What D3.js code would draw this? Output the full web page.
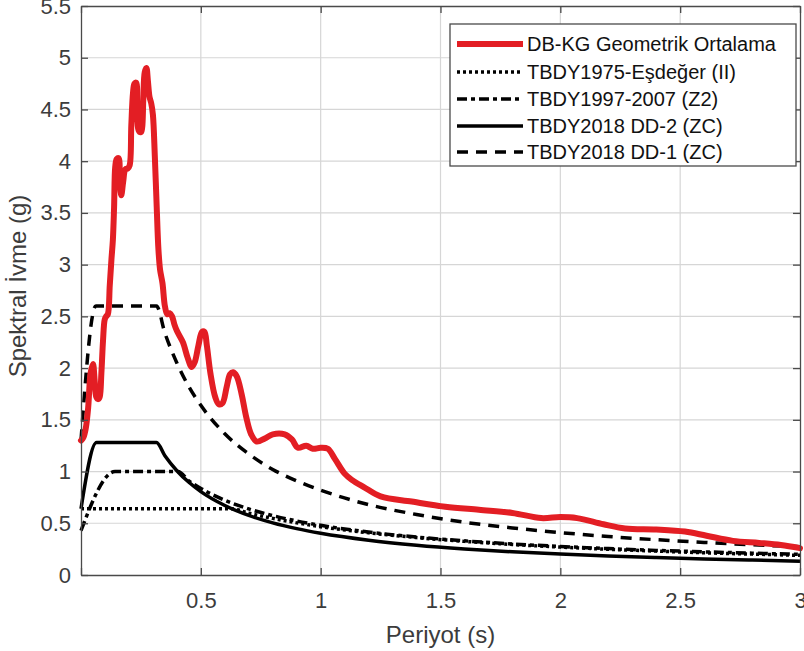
<!DOCTYPE html>
<html>
<head>
<meta charset="utf-8">
<script src="https://cdn.jsdelivr.net/npm/d3@7"></script>
<style>
  html, body { margin: 0; padding: 0; background: #fff; }
  svg { display: block; font-family: "Liberation Sans", Arial, sans-serif; }
</style>
</head>
<body>
<svg id="chart" width="804" height="651"></svg>
<script>
// ---------------- DATA ----------------
const xTicks = [0, 0.5, 1, 1.5, 2, 2.5, 3];
const xTickLabels = ["", "0.5", "1", "1.5", "2", "2.5", "3"];
const yTicks = [0, 0.5, 1, 1.5, 2, 2.5, 3, 3.5, 4, 4.5, 5, 5.5];
const yTickLabels = ["0", "0.5", "1", "1.5", "2", "2.5", "3", "3.5", "4", "4.5", "5", "5.5"];

const seriesNames = [
  "DB-KG Geometrik Ortalama",
  "TBDY1975-Eşdeğer (II)",
  "TBDY1997-2007 (Z2)",
  "TBDY2018 DD-2 (ZC)",
  "TBDY2018 DD-1 (ZC)"
];

// DB-KG geometric mean spectrum (periods, s / spectral acc., g)
const periodsDBKG = [0.0, 0.01, 0.02, 0.03, 0.04, 0.05, 0.057, 0.064, 0.072, 0.078, 0.085, 0.092, 0.099, 0.105, 0.112, 0.12, 0.127, 0.133, 0.138, 0.143, 0.149, 0.157, 0.162, 0.168, 0.176, 0.185, 0.195, 0.203, 0.21, 0.217, 0.223, 0.23, 0.235, 0.24, 0.25, 0.255, 0.26, 0.266, 0.273, 0.279, 0.286, 0.293, 0.3, 0.308, 0.316, 0.323, 0.33, 0.34, 0.35, 0.36, 0.37, 0.38, 0.39, 0.40, 0.425, 0.445, 0.462, 0.475, 0.49, 0.505, 0.515, 0.525, 0.54, 0.56, 0.575, 0.59, 0.608, 0.622, 0.635, 0.65, 0.67, 0.69, 0.71, 0.733, 0.767, 0.80, 0.85, 0.88, 0.905, 0.94, 0.967, 1.0, 1.03, 1.06, 1.1, 1.13, 1.18, 1.25, 1.38, 1.52, 1.66, 1.8, 1.92, 2.0, 2.07, 2.18, 2.27, 2.4, 2.52, 2.61, 2.72, 2.83, 2.92, 3.0];
const saDBKG = [1.30, 1.33, 1.42, 1.62, 1.95, 2.04, 1.88, 1.72, 1.70, 1.72, 1.95, 2.27, 2.47, 2.50, 2.52, 2.80, 3.05, 3.24, 3.55, 3.95, 4.02, 4.03, 3.80, 3.67, 3.80, 3.92, 3.93, 3.96, 4.35, 4.66, 4.75, 4.76, 4.55, 4.30, 4.28, 4.32, 4.60, 4.86, 4.90, 4.78, 4.62, 4.56, 4.45, 4.05, 3.55, 3.15, 2.95, 2.82, 2.60, 2.52, 2.53, 2.50, 2.42, 2.36, 2.25, 2.10, 2.01, 2.06, 2.22, 2.35, 2.35, 2.22, 1.95, 1.72, 1.65, 1.66, 1.82, 1.94, 1.96, 1.92, 1.75, 1.52, 1.36, 1.29, 1.32, 1.36, 1.36, 1.31, 1.23, 1.25, 1.22, 1.23, 1.22, 1.12, 0.98, 0.92, 0.85, 0.76, 0.71, 0.66, 0.63, 0.60, 0.55, 0.56, 0.55, 0.49, 0.45, 0.44, 0.42, 0.38, 0.33, 0.31, 0.29, 0.26];

// TBDY1975 equivalent (soil class II)
const periods1975 = [0.0, 0.63, 0.7, 0.8, 0.9, 1.0, 1.2, 1.4, 1.6, 1.8, 2.0, 2.2, 2.4, 2.6, 2.8, 3.0];
const sa1975 = [0.64, 0.64, 0.598, 0.547, 0.504, 0.467, 0.408, 0.362, 0.325, 0.295, 0.270, 0.249, 0.231, 0.215, 0.202, 0.190];

// TBDY1997-2007 (Z2)
const periods1997 = [0.0, 0.142, 0.405, 0.45, 0.5, 0.6, 0.7, 0.8, 0.9, 1.0, 1.2, 1.4, 1.6, 1.8, 2.0, 2.2, 2.4, 2.6, 2.8, 3.0];
const sa1997 = [0.43, 1.0, 1.0, 0.910, 0.837, 0.723, 0.639, 0.574, 0.522, 0.480, 0.415, 0.367, 0.330, 0.300, 0.276, 0.255, 0.238, 0.224, 0.211, 0.200];

// TBDY2018 DD-2 (ZC)
const periodsDD2 = [0.0, 0.065, 0.315, 0.35, 0.4, 0.45, 0.5, 0.6, 0.7, 0.8, 0.9, 1.0, 1.2, 1.4, 1.6, 1.8, 2.0, 2.2, 2.4, 2.6, 2.8, 3.0];
const saDD2 = [0.64, 1.28, 1.28, 1.152, 1.008, 0.896, 0.806, 0.672, 0.576, 0.504, 0.448, 0.403, 0.336, 0.288, 0.252, 0.224, 0.202, 0.183, 0.168, 0.155, 0.144, 0.134];

// TBDY2018 DD-1 (ZC)
const periodsDD1 = [0.0, 0.062, 0.315, 0.35, 0.4, 0.45, 0.5, 0.6, 0.7, 0.8, 0.9, 1.0, 1.2, 1.4, 1.6, 1.8, 2.0, 2.2, 2.4, 2.6, 2.8, 3.0];
const saDD1 = [1.30, 2.60, 2.60, 2.34, 2.05, 1.82, 1.64, 1.365, 1.17, 1.02, 0.91, 0.82, 0.68, 0.585, 0.51, 0.455, 0.41, 0.372, 0.341, 0.315, 0.292, 0.273];

// ---------------- LAYOUT ----------------
const svg = d3.select("#chart");
const W = 804, H = 651;
const m = { left: 81, right: 4, top: 6, bottom: 76 };
const pw = W - m.left - m.right, ph = H - m.top - m.bottom;

const x = d3.scaleLinear().domain([0, 3]).range([0, pw]);
const y = d3.scaleLinear().domain([0, 5.5]).range([ph, 0]);

const g = svg.append("g").attr("transform", `translate(${m.left},${m.top})`);

const axisColor = "#4a4a4a";
const textColor = "#3c3c3c";

// grid
g.append("g").selectAll("line.vg").data(xTicks.slice(1, -1)).join("line")
  .attr("x1", d => x(d)).attr("x2", d => x(d)).attr("y1", 0).attr("y2", ph)
  .attr("stroke", "#d6d6d6").attr("stroke-width", 1.2);
g.append("g").selectAll("line.hg").data(yTicks.slice(1, -1)).join("line")
  .attr("y1", d => y(d)).attr("y2", d => y(d)).attr("x1", 0).attr("x2", pw)
  .attr("stroke", "#d6d6d6").attr("stroke-width", 1.2);

// series lines
const lineStyles = [
  { color: "#e31e24", width: 6, dash: null },
  { color: "#000", width: 3.5, dash: "3,3" },
  { color: "#000", width: 3.5, dash: "10,4,4,4" },
  { color: "#000", width: 3.5, dash: null },
  { color: "#000", width: 3.5, dash: "11,8" }
];
const seriesData = [
  [periodsDBKG, saDBKG],
  [periods1975, sa1975],
  [periods1997, sa1997],
  [periodsDD2, saDD2],
  [periodsDD1, saDD1]
];
const clip = svg.append("clipPath").attr("id", "clip").append("rect")
  .attr("x", m.left).attr("y", m.top - 3).attr("width", pw + 2).attr("height", ph + 3);

const drawOrder = [4, 3, 2, 1, 0];
drawOrder.forEach(i => {
  const [ts, vs] = seriesData[i];
  const pts = ts.map((t, k) => [t, vs[k]]);
  const curve = i === 0 ? d3.curveCatmullRom.alpha(0.5) : d3.curveMonotoneX;
  const ln = d3.line().x(d => x(d[0])).y(d => y(d[1])).curve(curve);
  const st = lineStyles[i];
  g.append("path").datum(pts)
    .attr("d", ln)
    .attr("fill", "none")
    .attr("stroke", st.color)
    .attr("stroke-width", st.width)
    .attr("stroke-linejoin", "round")
    .attr("stroke-linecap", i === 0 ? "round" : "butt")
    .attr("stroke-dasharray", st.dash);
});

// axes (ticks inward)
const xAxis = d3.axisBottom(x).tickValues(xTicks).tickFormat((d, i) => xTickLabels[i])
  .tickSizeInner(-7).tickSizeOuter(0).tickPadding(17);
const yAxis = d3.axisLeft(y).tickValues(yTicks).tickFormat((d, i) => yTickLabels[i])
  .tickSizeInner(-7).tickSizeOuter(0).tickPadding(10);
const xAxisTop = d3.axisTop(x).tickValues(xTicks).tickFormat("").tickSizeInner(-7).tickSizeOuter(0);
const yAxisRight = d3.axisRight(y).tickValues(yTicks).tickFormat("").tickSizeInner(-7).tickSizeOuter(0);

function styleAxis(sel) {
  sel.selectAll("path").attr("stroke", axisColor).attr("stroke-width", 1.3);
  sel.selectAll("line").attr("stroke", axisColor).attr("stroke-width", 1.3);
  sel.selectAll("text").attr("fill", textColor).style("font-size", "22px")
    .style("font-family", "'Liberation Sans', Arial, sans-serif");
}
g.append("g").attr("transform", `translate(0,${ph})`).call(xAxis).call(styleAxis);
g.append("g").call(yAxis).call(styleAxis);
g.append("g").call(xAxisTop).call(styleAxis);
g.append("g").attr("transform", `translate(${pw},0)`).call(yAxisRight).call(styleAxis);

// axis labels
svg.append("text").attr("x", m.left + x(1.5)).attr("y", 643)
  .attr("text-anchor", "middle").attr("fill", textColor)
  .style("font-size", "24px").text("Periyot (s)");
svg.append("text").attr("transform", "translate(26,286) rotate(-90)")
  .attr("text-anchor", "middle").attr("fill", textColor)
  .style("font-size", "24px").text("Spektral İvme (g)");

// legend
const lg = svg.append("g");
lg.append("rect").attr("x", 450).attr("y", 24).attr("width", 346).attr("height", 142)
  .attr("fill", "#fff").attr("stroke", axisColor).attr("stroke-width", 1.3);
const rowY = [44, 72, 99, 126, 152];
seriesNames.forEach((name, i) => {
  const st = lineStyles[i];
  lg.append("line").attr("x1", 457).attr("x2", 523).attr("y1", rowY[i]).attr("y2", rowY[i])
    .attr("stroke", st.color).attr("stroke-width", st.width).attr("stroke-dasharray", st.dash);
  lg.append("text").attr("x", 527).attr("y", rowY[i]).attr("dy", "0.35em")
    .attr("fill", "#111").style("font-size", "20px").text(name);
});
</script>
</body>
</html>
